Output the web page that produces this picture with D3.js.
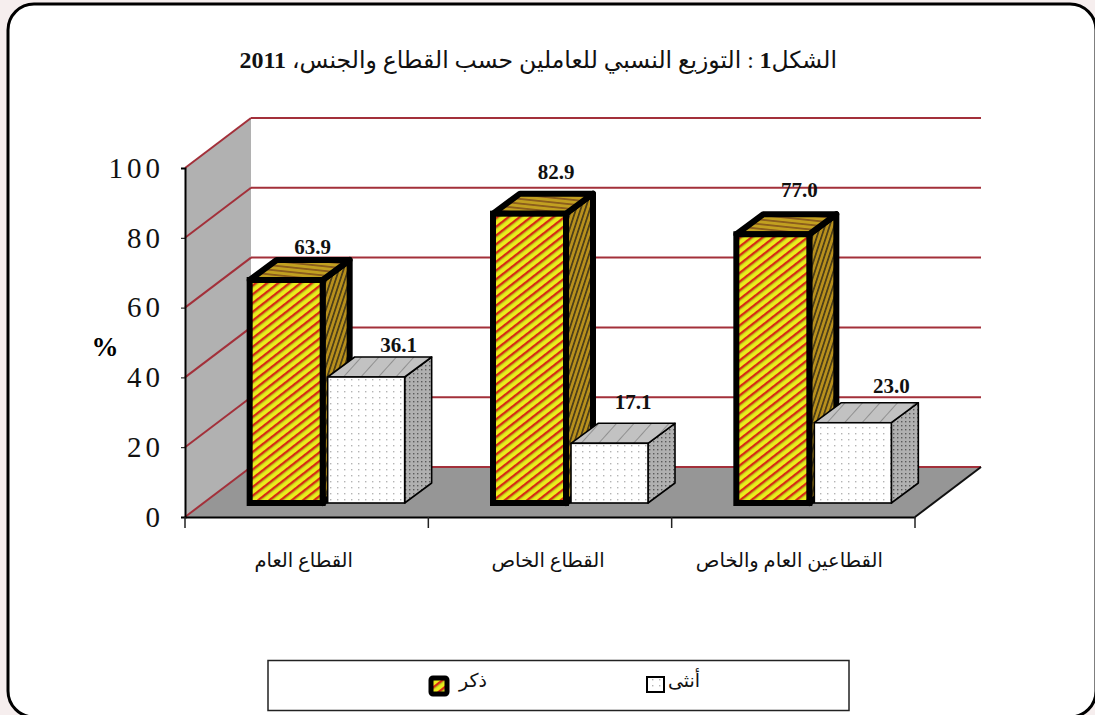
<!DOCTYPE html>
<html lang="ar"><head><meta charset="utf-8">
<script src="https://cdn.jsdelivr.net/npm/d3@7"></script>
<style>html,body{margin:0;padding:0;background:#fff;overflow:hidden}svg{display:block}</style>
</head><body><svg id="c" width="1095" height="715"></svg>
<script>
const titleParts = ["الشكل", "1", " : التوزيع النسبي للعاملين حسب القطاع والجنس، ", "2011"];
const categories = ["القطاع العام", "القطاع الخاص", "القطاعين العام والخاص"];
const seriesNames = ["ذكر", "أنثى"];
const maleValues = [63.9, 82.9, 77.0];
const femaleValues = [36.1, 17.1, 23.0];
const yTicks = [0, 20, 40, 60, 80, 100];

const SERIF = "'Liberation Serif','DejaVu Serif',serif";
const AR = "'Liberation Serif','DejaVu Sans',serif";
const svg = d3.select("#c");
const defs = svg.append("defs");

function stripes(id, base, line, period, w, angle, extra) {
  const p = defs.append("pattern").attr("id", id).attr("patternUnits", "userSpaceOnUse")
    .attr("width", period).attr("height", period).attr("patternTransform", `rotate(${angle})`);
  p.append("rect").attr("width", period).attr("height", period).attr("fill", base);
  if (extra) p.append("rect").attr("y", w).attr("width", period).attr("height", 1).attr("fill", extra);
  p.append("rect").attr("width", period).attr("height", w).attr("fill", line);
}
function dots(id, base, dot, px, py, r) {
  const p = defs.append("pattern").attr("id", id).attr("patternUnits", "userSpaceOnUse")
    .attr("width", px).attr("height", py);
  p.append("rect").attr("width", px).attr("height", py).attr("fill", base);
  p.append("rect").attr("x", 1).attr("y", 1).attr("width", r).attr("height", r).attr("fill", dot);
}
stripes("mFront", "#ecec1c", "#d62a14", 6.9, 2.3, -38, "#a6d020");
stripes("mTop", "#c2a020", "#8a5c1c", 4.6, 1.8, 6);
stripes("mSide", "#b8901c", "#4a3c18", 4.4, 1.7, -72);
dots("fFront", "#ffffff", "#b4b4b4", 7, 6, 1.4);
stripes("fTop", "#c2c2c2", "#909090", 13, 1, -48);
dots("fSide", "#b0b0b0", "#5a5a5a", 4, 4, 1.4);

// page frame
svg.append("rect").attr("width", 1095).attr("height", 715).attr("fill", "#f6eeee");
svg.append("rect").attr("x", 8).attr("y", 4).attr("width", 1088).attr("height", 713)
  .attr("rx", 26).attr("fill", "#fff").attr("stroke", "#000").attr("stroke-width", 3);

// scales: front plane of the 3D box, with a fixed depth projection
const DX = 66, DY = -50;
const x = d3.scaleBand().domain(categories).range([185, 915]);
const y = d3.scaleLinear().domain([0, 100]).range([517, 168]);
const groupW = 158;
const seriesBand = d3.scaleBand().domain(seriesNames).range([0, groupW]).padding(0);
const barOff = { x: (x.bandwidth() - groupW) / 2 + 19, y: -14 };
const line = d3.line();
const poly = pts => line(pts) + "Z";

// walls and floor
const g = svg.append("g");
g.append("path").attr("d", poly([[185, y(100)], [185 + DX, y(100) + DY], [185 + DX, y(0) + DY], [185, y(0)]])).attr("fill", "#b1b1b1");
g.append("path").attr("d", poly([[185, y(0)], [185 + DX, y(0) + DY], [915 + DX, y(0) + DY], [915, y(0)]])).attr("fill", "#969696");
g.selectAll("line.back").data(yTicks).join("line").attr("class", "back")
  .attr("x1", 185 + DX).attr("x2", 915 + DX).attr("y1", d => y(d) + DY).attr("y2", d => y(d) + DY)
  .attr("stroke", "#a3303a").attr("stroke-width", 2);
g.selectAll("line.wall").data(yTicks).join("line").attr("class", "wall")
  .attr("x1", 185).attr("x2", 185 + DX).attr("y1", d => y(d)).attr("y2", d => y(d) + DY)
  .attr("stroke", "#a3303a").attr("stroke-width", 2);

// axes
const yAxis = g.append("g").attr("transform", "translate(185,0)")
  .call(d3.axisLeft(y).tickValues(yTicks).tickSize(4).tickPadding(17));
yAxis.selectAll("text").attr("font-family", SERIF).attr("font-size", 29).attr("letter-spacing", 4).attr("fill", "#111");
const xAxis = g.append("g").attr("transform", `translate(0,${y(0)})`)
  .call(d3.axisBottom(x).tickValues([]).tickSizeOuter(0));
xAxis.selectAll(".domain").attr("stroke-width", 2);
yAxis.selectAll(".domain").attr("stroke-width", 2);
g.append("g").selectAll("line").data(d3.range(categories.length + 1)).join("line")
  .attr("x1", i => 185 + i * x.bandwidth()).attr("x2", i => 185 + i * x.bandwidth())
  .attr("y1", y(0)).attr("y2", y(0) + 11).attr("stroke", "#222").attr("stroke-width", 1.5);
g.append("path").attr("d", line([[915, y(0)], [915 + DX, y(0) + DY]])).attr("stroke", "#111").attr("stroke-width", 2).attr("fill", "none");

g.append("g").selectAll("text").data(categories).join("text")
  .attr("x", d => x(d) + x.bandwidth() / 2 + [-3, -2, -4][categories.indexOf(d)])
  .attr("y", 567).attr("text-anchor", "middle").attr("direction", "rtl")
  .attr("font-family", AR).attr("font-size", 19.5).attr("fill", "#111").text(d => d);

g.append("text").attr("x", 105).attr("y", 356).attr("text-anchor", "middle")
  .attr("font-family", SERIF).attr("font-weight", "bold").attr("font-size", 27).text("%");

// 3D bars
function bar(parent, cat, series, value, sty) {
  const x0 = x(cat) + barOff.x + seriesBand(series) + sty.inL, w = seriesBand.bandwidth() - sty.inL - sty.inR;
  const b = y(0) + barOff.y, t = y(value) + barOff.y, dx = sty.dx, dy = -20;
  const gb = parent.append("g").attr("stroke", "#000").attr("stroke-width", sty.sw).attr("stroke-linejoin", "round");
  gb.append("path").attr("d", poly([[x0 + w, t], [x0 + w + dx, t + dy], [x0 + w + dx, b + dy], [x0 + w, b]])).attr("fill", `url(#${sty.side})`);
  gb.append("path").attr("d", poly([[x0, t], [x0 + dx, t + dy], [x0 + w + dx, t + dy], [x0 + w, t]])).attr("fill", `url(#${sty.top})`);
  gb.append("rect").attr("x", x0).attr("y", t).attr("width", w).attr("height", b - t).attr("fill", `url(#${sty.front})`).attr("stroke-linejoin", "miter");
}
const barsG = svg.append("g");
const maleSty = { front: "mFront", top: "mTop", side: "mSide", sw: 6, inL: 3, inR: 3, dx: 27 };
const femaleSty = { front: "fFront", top: "fTop", side: "fSide", sw: 1.6, inL: 2, inR: 0, dx: 27 };
categories.forEach((c, i) => {
  bar(barsG, c, seriesNames[0], maleValues[i], maleSty);
  bar(barsG, c, seriesNames[1], femaleValues[i], femaleSty);
});

// value labels (nudges reproduce the manually placed labels of the source)
const maleNudge = [[66, -26], [66, -35], [66, -37]];
const femaleNudge = [[73, -25], [64, -34], [79, -30]];
const lab = svg.append("g").attr("font-family", SERIF).attr("font-weight", "bold").attr("font-size", 21)
  .attr("text-anchor", "middle").attr("fill", "#111");
categories.forEach((c, i) => {
  const xm = x(c) + barOff.x + seriesBand(seriesNames[0]), xf = x(c) + barOff.x + seriesBand(seriesNames[1]);
  lab.append("text").attr("x", xm + maleNudge[i][0]).attr("y", y(maleValues[i]) + barOff.y + maleNudge[i][1]).text(maleValues[i].toFixed(1));
  lab.append("text").attr("x", xf + femaleNudge[i][0]).attr("y", y(femaleValues[i]) + barOff.y + femaleNudge[i][1]).text(femaleValues[i].toFixed(1));
});

// title
const title = svg.append("text").attr("x", 837).attr("y", 68).attr("direction", "rtl").attr("text-anchor", "start")
  .attr("font-family", AR).attr("fill", "#111");
titleParts.forEach(p => {
  const isNum = /^\d+$/.test(p);
  title.append("tspan").attr("font-weight", isNum ? "bold" : "normal").attr("font-size", isNum ? 24 : 23.5).text(p);
});

// legend
const leg = svg.append("g");
leg.append("rect").attr("x", 268).attr("y", 660.5).attr("width", 581).attr("height", 50).attr("fill", "#fff").attr("stroke", "#222").attr("stroke-width", 1.5);
const legX = d3.scalePoint().domain(seriesNames).range([473, 684]);
const legF = ["mFront", "fFront"], legS = [5, 2];
seriesNames.forEach((s, i) => {
  leg.append("text").attr("x", legX(s)).attr("y", 687).attr("text-anchor", "middle").attr("direction", "rtl")
    .attr("font-family", AR).attr("font-size", 19).attr("fill", "#111").text(s);
  leg.append("rect").attr("x", [431, 647][i]).attr("y", [678, 677][i]).attr("width", [16, 17][i]).attr("height", [16, 15][i]).attr("rx", i ? 0 : 2)
    .attr("fill", `url(#${legF[i]})`).attr("stroke", "#000").attr("stroke-width", legS[i]);
});
</script></body></html>
